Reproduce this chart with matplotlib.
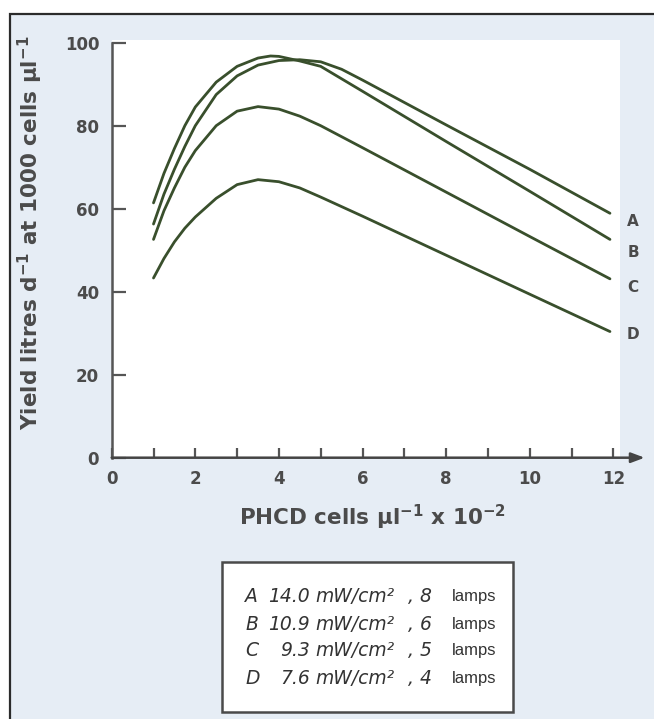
import numpy as np
import matplotlib
matplotlib.use("Agg")
import matplotlib.pyplot as plt
from matplotlib.patches import Rectangle

# values
xa = [1.0, 1.25, 1.5, 1.75, 2.0, 2.5, 3.0, 3.5, 4.0, 4.5, 5.0, 5.5, 6.0, 8.0, 10.0, 11.92]
ya = [56.3, 63.5, 69.5, 75.0, 80.0, 87.5, 92.0, 94.6, 95.7, 95.9, 95.4, 93.6, 91.0, 80.2, 69.5, 58.9]

xb = [1.0, 1.25, 1.5, 1.75, 2.0, 2.5, 3.0, 3.5, 3.8, 4.0, 4.5, 5.0, 6.0, 8.0, 10.0, 11.92]
yb = [61.4, 68.5, 74.5, 80.0, 84.5, 90.5, 94.3, 96.3, 96.8, 96.7, 95.6, 94.3, 88.3, 76.2, 64.2, 52.6]

xc = [1.0, 1.25, 1.5, 1.75, 2.0, 2.5, 3.0, 3.5, 4.0, 4.5, 5.0, 6.0, 8.0, 10.0, 11.92]
yc = [52.6, 59.5, 65.0, 70.0, 74.0, 80.0, 83.5, 84.6, 84.0, 82.3, 80.0, 74.7, 64.0, 53.3, 43.1]

xd = [1.0, 1.25, 1.5, 1.75, 2.0, 2.5, 3.0, 3.5, 4.0, 4.5, 5.0, 6.0, 8.0, 10.0, 11.92]
yd = [43.3, 48.0, 52.0, 55.3, 58.0, 62.5, 65.8, 67.0, 66.5, 65.0, 62.8, 58.2, 48.8, 39.4, 30.4]

curve_names = ["A", "B", "C", "D"]
label_y = [56.8, 49.5, 41.1, 29.8]

legend_letters = ["A", "B", "C", "D"]
legend_power = ["14.0", "10.9", "9.3", "7.6"]
legend_lamps = ["8", "6", "5", "4"]

W, H = 654, 719
line_col = "#394f2c"
txt_col = "#4b4b4b"

fig = plt.figure(figsize=(W / 100, H / 100), dpi=100, facecolor="white")

def fx(px):
    return px / W

def fy(py):
    return 1 - py / H

# outer panel with border
fig.patches.append(Rectangle((fx(10), -0.01), 1 - fx(10) + 0.01, fy(14) + 0.01, transform=fig.transFigure,
                             facecolor="#e6edf5", edgecolor="#2b2b2b", lw=1.6, zorder=-10))

x0, y0 = 111.7, 457.7
xs, ys = 41.8, 4.15
xmax = 12.8
ax = fig.add_axes([fx(x0), fy(y0), xmax * xs / W, 100 * ys / H])
ax.set_facecolor("none")
ax.set_xlim(0, xmax)
ax.set_ylim(0, 100)

# white plotting field
ax.add_patch(Rectangle((0, 0), (620 - x0) / xs, (y0 - 40) / ys, facecolor="white",
                       edgecolor="none", zorder=0, clip_on=False))

for xv, yv in zip([xa, xb, xc, xd], [ya, yb, yc, yd]):
    ax.plot(xv, yv, color=line_col, lw=2.0, solid_capstyle="round", zorder=3)

for name, ly in zip(curve_names, label_y):
    ax.text(12.47, ly, name, ha="center", va="center", fontsize=11, fontweight="bold",
            color=txt_col, clip_on=False)

for side in ["top", "right", "bottom"]:
    ax.spines[side].set_visible(False)
ax.spines["left"].set_color("#555555")
ax.spines["left"].set_linewidth(1.8)

ax.annotate("", xy=(12.75, 0), xytext=(0, 0),
            arrowprops=dict(arrowstyle="-|>,head_length=0.8,head_width=0.3", color="#444444", lw=1.8,
                            shrinkA=0, shrinkB=0), annotation_clip=False)

ax.set_xticks(range(0, 13, 2))
ax.set_xticks(range(1, 13, 2), minor=True)
ax.set_yticks(range(0, 101, 20))
ax.tick_params(axis="x", which="both", direction="in", length=7, width=1.6, color="#555555",
               pad=9, labelsize=12, labelcolor=txt_col)
ax.tick_params(axis="y", direction="in", length=10, width=1.6, color="#555555",
               pad=9, labelsize=12, labelcolor=txt_col)
for lab in ax.get_xticklabels() + ax.get_yticklabels():
    lab.set_fontweight("bold")

fig.text(fx(30), fy(233), r"Yield litres d$^{\mathbf{-1}}$ at 1000 cells µl$^{\mathbf{-1}}$",
         rotation=90, ha="center", va="center", fontsize=15.5, fontweight="bold", color=txt_col)
fig.text(fx(372), fy(517), r"PHCD cells µl$^{\mathbf{-1}}$ x 10$^{\mathbf{-2}}$",
         ha="center", va="center", fontsize=15.5, fontweight="bold", color=txt_col)

# legend box
fig.patches.append(Rectangle((fx(221.7), fy(711.7)), fx(513 - 221.7), (711.7 - 561.7) / H,
                             transform=fig.transFigure, facecolor="white", edgecolor="#4a4a4a",
                             lw=1.8, zorder=1))
ital = dict(family="DejaVu Sans", style="italic", fontsize=13.5, color="#333333", va="center", zorder=2)
for i, (let, pw, lp) in enumerate(zip(legend_letters, legend_power, legend_lamps)):
    yy = fy(597 + 27 * i)
    fig.text(fx(245), yy, let, ha="left", **ital)
    fig.text(fx(310), yy, pw, ha="right", **ital)
    fig.text(fx(315), yy, "mW/cm²", ha="left", **ital)
    fig.text(fx(432), yy, ", " + lp, ha="right", **ital)
    fig.text(fx(452), yy, "lamps", ha="left", family="Liberation Sans", fontsize=12,
             color="#333333", va="center", zorder=2)

fig.savefig("out.png", dpi=100, facecolor=fig.get_facecolor())
